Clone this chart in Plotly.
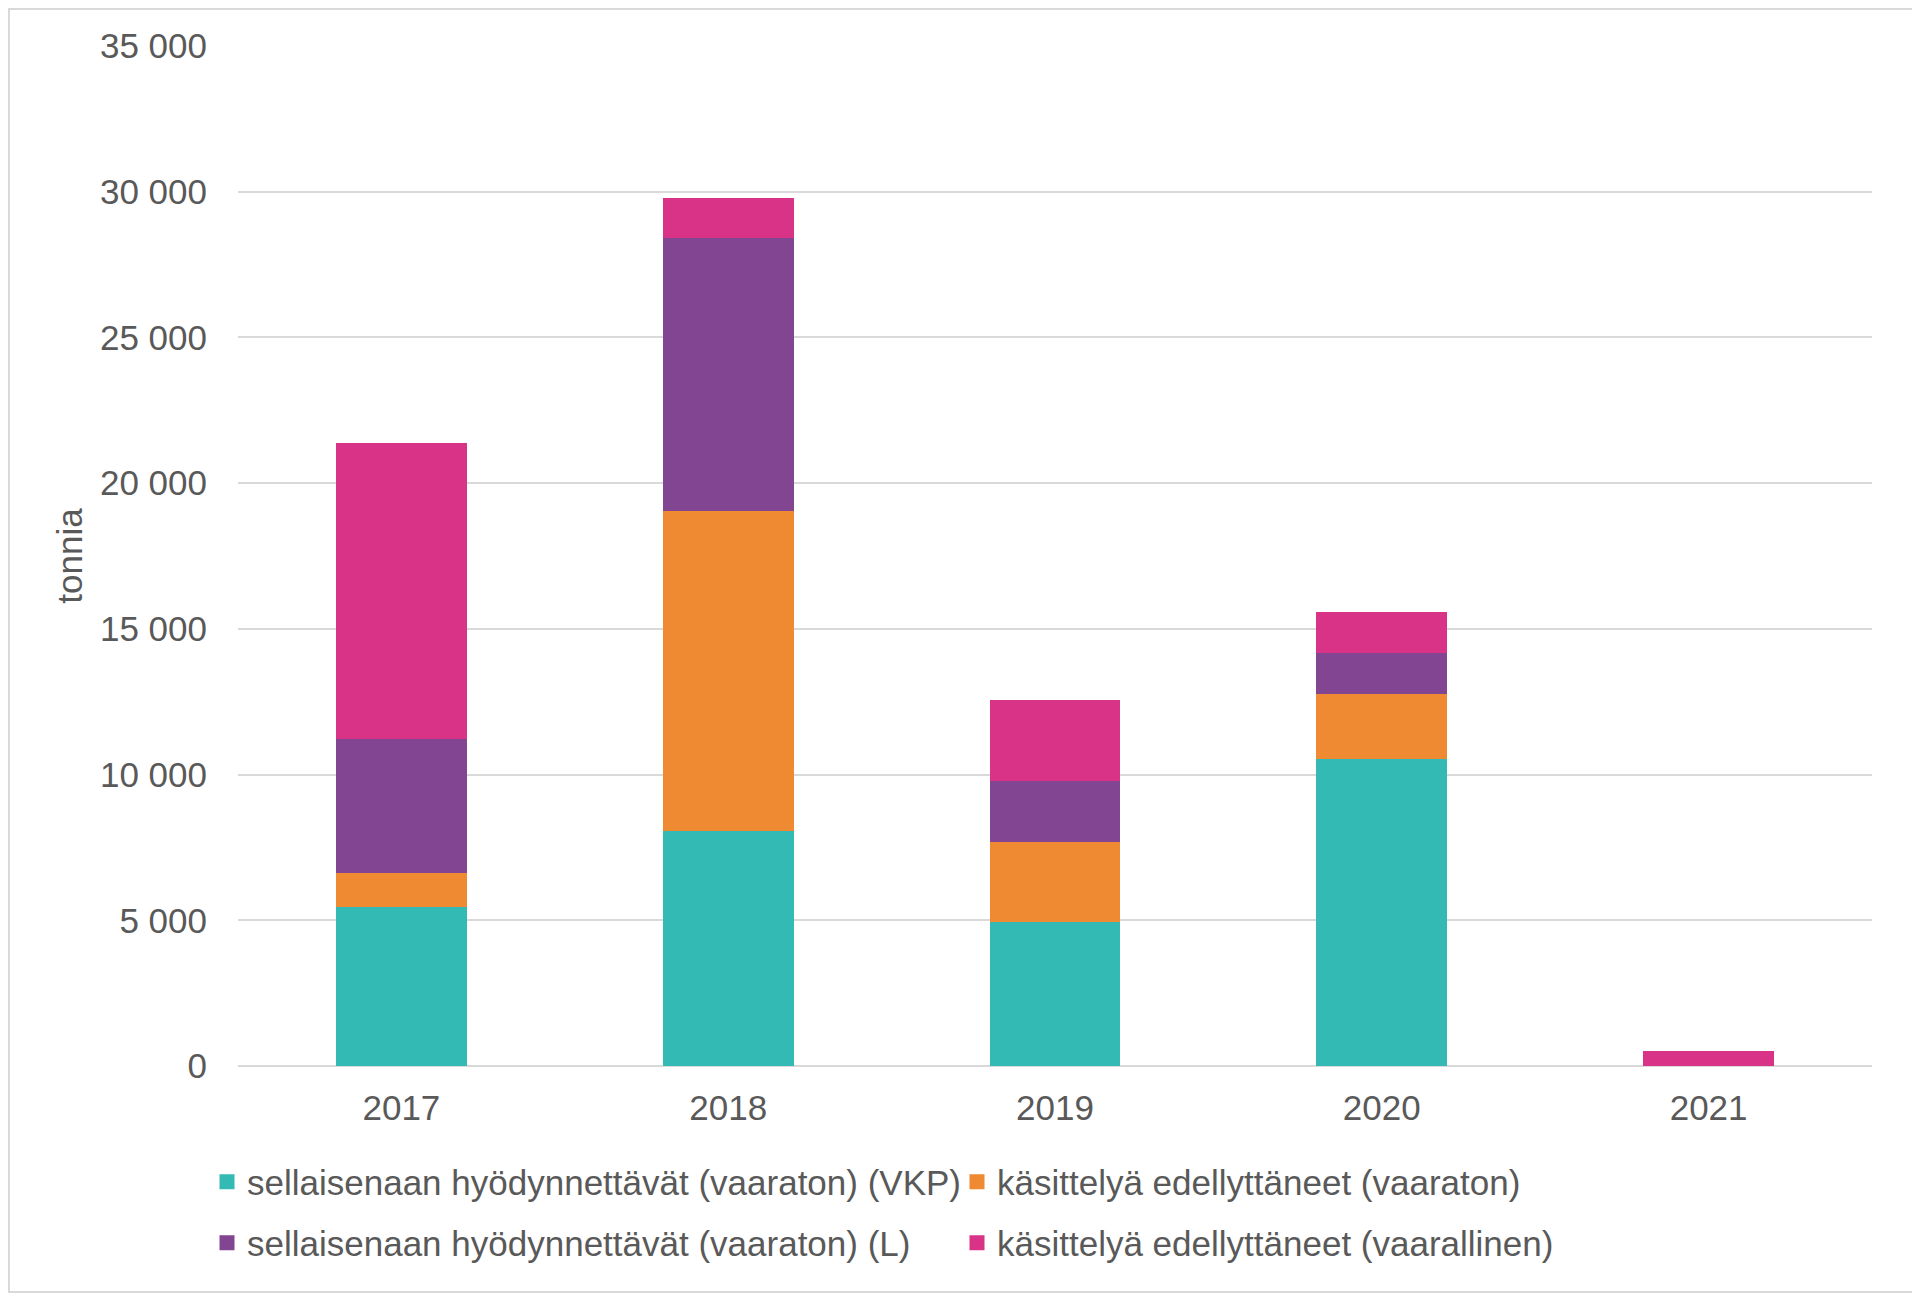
import plotly.graph_objects as go

years = ["2017", "2018", "2019", "2020", "2021"]
series_names = [
    "sellaisenaan hyödynnettävät (vaaraton) (VKP)",
    "käsittelyä edellyttäneet (vaaraton)",
    "sellaisenaan hyödynnettävät (vaaraton) (L)",
    "käsittelyä edellyttäneet (vaarallinen)",
]
vkp_vaaraton = [5460, 8060, 4950, 10530, 0]
kasittely_vaaraton = [1160, 11000, 2730, 2240, 0]
l_vaaraton = [4600, 9340, 2100, 1400, 0]
kasittely_vaarallinen = [10150, 1390, 2780, 1400, 520]
colors = ["#34BAB5", "#F08A32", "#824592", "#D93388"]
legend_ids = ["legend", "legend", "legend2", "legend2"]

values = [vkp_vaaraton, kasittely_vaaraton, l_vaaraton, kasittely_vaarallinen]

# page has an 8px body margin; figure sized to fit the viewport
OFF = 8
W, H = 1912, 1291
L, T = 238 - OFF, 46 - OFF
R = W - (1872 - OFF)
B = H - (1066 - OFF)
PW, PH = W - L - R, H - T - B

def sx(x):  # screen px -> paper x
    return (x - OFF - L) / PW

def sy(y):  # screen px -> paper y
    return 1 - (y - OFF - T) / PH

FONT = "Liberation Sans, Arial, sans-serif"
TXT = "#595959"
FS = 35

fig = go.Figure()
for name, vals, col in zip(series_names, values, colors):
    fig.add_trace(go.Bar(
        x=years, y=vals, name=name, marker_color=col,
        marker_line_width=0, showlegend=False,
    ))
# legend entries with square swatches
for name, col, lg in zip(series_names, colors, legend_ids):
    fig.add_trace(go.Scatter(
        x=[years[0]], y=[None], name=name, mode="markers",
        marker=dict(symbol="square", size=15, color=col),
        legend=lg, showlegend=True, hoverinfo="skip",
    ))

legend_common = dict(
    orientation="h", xanchor="left", yanchor="middle",
    font=dict(family=FONT, size=FS, color=TXT),
    entrywidth=705, entrywidthmode="pixels", traceorder="normal",
    bgcolor="rgba(0,0,0,0)", itemclick=False, itemdoubleclick=False,
)

fig.update_layout(
    width=W, height=H,
    margin=dict(l=L, r=R, t=T, b=B),
    paper_bgcolor="white", plot_bgcolor="white",
    barmode="stack", bargap=0.6,
    separators=", ",
    font=dict(family=FONT, size=FS, color=TXT),
    xaxis=dict(
        showgrid=False, showline=False, zeroline=False,
        ticks="", ticklabelstandoff=18,
        tickfont=dict(family=FONT, size=FS, color=TXT),
    ),
    yaxis=dict(
        range=[0, 35000], dtick=5000, tickformat=",",
        showgrid=True, gridcolor="#D9D9D9", gridwidth=2,
        zeroline=True, zerolinecolor="#D9D9D9", zerolinewidth=2,
        showline=False, ticks="", ticklabelstandoff=30,
        tickfont=dict(family=FONT, size=FS, color=TXT),
        title=dict(text="tonnia", standoff=6,
                   font=dict(family=FONT, size=FS, color=TXT)),
    ),
    legend=dict(x=sx(207), y=sy(1182), **legend_common),
    legend2=dict(x=sx(207), y=sy(1243), **legend_common),
    showlegend=True,
    shapes=[dict(
        type="rect", xref="paper", yref="paper",
        x0=sx(9), x1=sx(1913), y0=sy(1292), y1=sy(9),
        line=dict(color="#D9D9D9", width=2), layer="below",
    )],
)

fig.write_html("out.html")
